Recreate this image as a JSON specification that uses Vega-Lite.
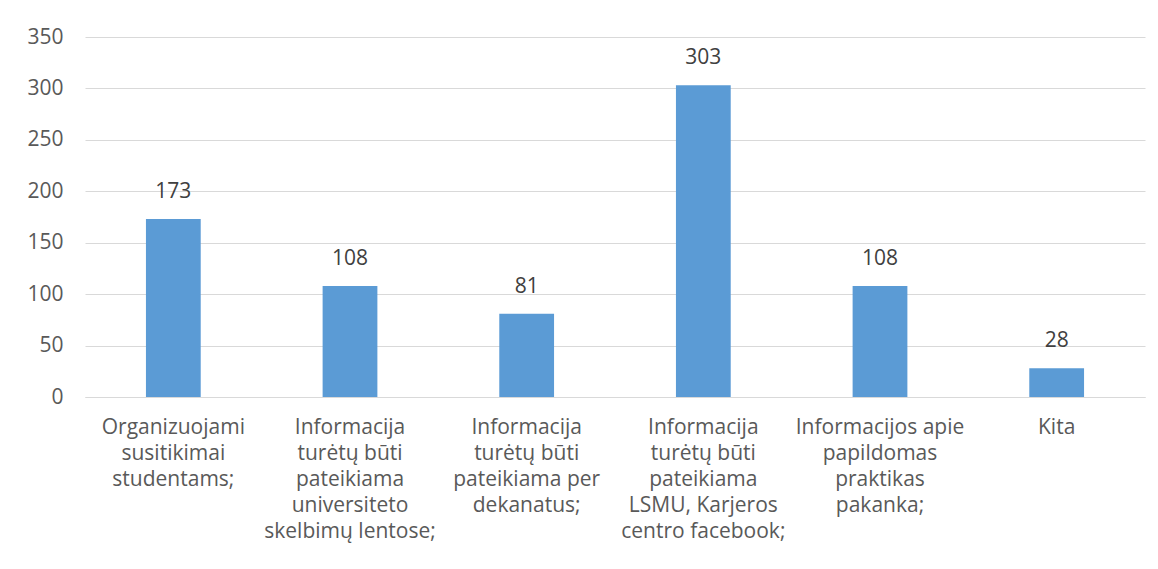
{
  "$schema": "https://vega.github.io/schema/vega-lite/v6.json",
  "width": 1060,
  "height": 360,
  "autosize": {"type": "none"},
  "padding": {"left": 85, "top": 37, "right": 13, "bottom": 172},
  "background": "white",
  "data": {
    "values": [
      {"cat": "Organizuojami|susitikimai|studentams;", "v": 173, "o": 1},
      {"cat": "Informacija|turėtų būti|pateikiama|universiteto|skelbimų lentose;", "v": 108, "o": 2},
      {"cat": "Informacija|turėtų būti|pateikiama per|dekanatus;", "v": 81, "o": 3},
      {"cat": "Informacija|turėtų būti|pateikiama|LSMU, Karjeros|centro facebook;", "v": 303, "o": 4},
      {"cat": "Informacijos apie|papildomas|praktikas|pakanka;", "v": 108, "o": 5},
      {"cat": "Kita", "v": 28, "o": 6}
    ]
  },
  "encoding": {
    "x": {
      "field": "cat",
      "type": "nominal",
      "sort": {"field": "o"},
      "scale": {"paddingInner": 0.69, "paddingOuter": 0.345},
      "axis": {
        "title": null,
        "labelAngle": 0,
        "labelExpr": "split(datum.label, '|')",
        "labelFont": "Open Sans",
        "labelFontSize": 21,
        "labelColor": "#595959",
        "labelLineHeight": 26.2,
        "labelPadding": 19,
        "labelLimit": 300,
        "ticks": false,
        "domainColor": "#D9D9D9",
        "labelBaseline": "top"
      }
    },
    "y": {
      "field": "v",
      "type": "quantitative",
      "scale": {"domain": [0, 350]},
      "axis": {
        "title": null,
        "values": [0, 50, 100, 150, 200, 250, 300, 350],
        "labelFont": "Open Sans",
        "labelFontSize": 21,
        "labelColor": "#595959",
        "labelPadding": 22,
        "ticks": false,
        "domain": false,
        "gridColor": "#D9D9D9"
      }
    }
  },
  "layer": [
    {"mark": {"type": "bar", "color": "#5B9BD5"}},
    {
      "mark": {"type": "text", "dy": -27, "font": "Open Sans", "fontSize": 21, "color": "#404040"},
      "encoding": {"text": {"field": "v", "type": "quantitative"}}
    }
  ],
  "config": {"view": {"stroke": null}}
}
